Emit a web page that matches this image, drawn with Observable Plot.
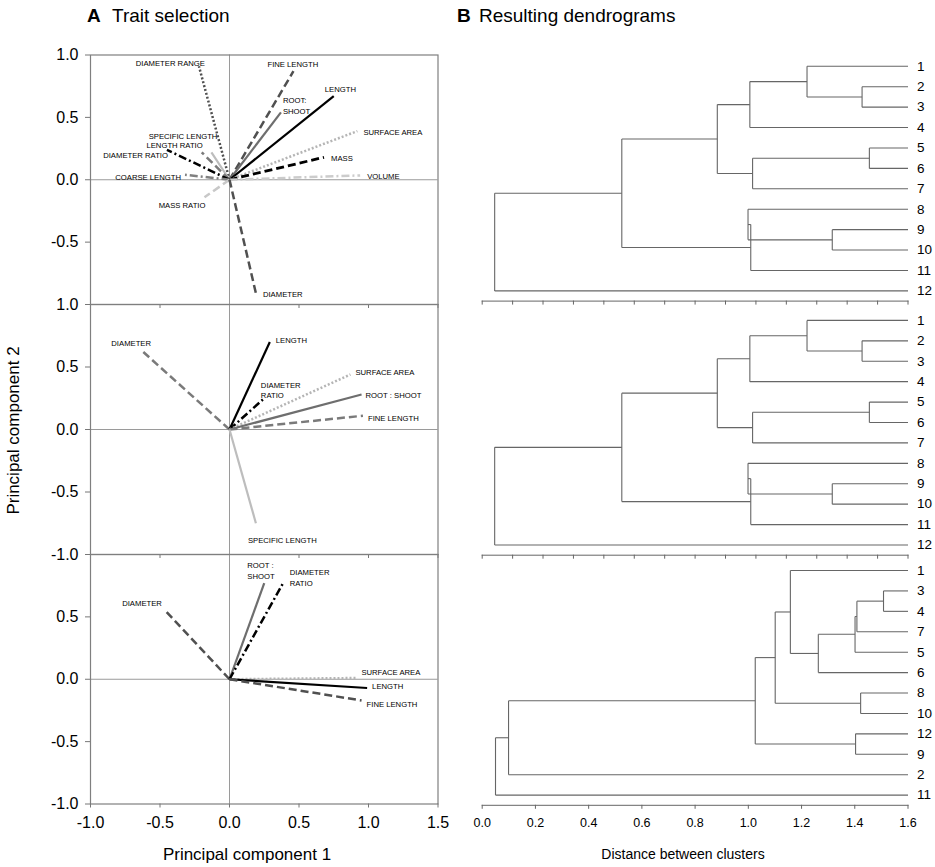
<!DOCTYPE html>
<html>
<head>
<meta charset="utf-8">
<script src="https://cdn.jsdelivr.net/npm/d3@7"></script>
<script src="https://cdn.jsdelivr.net/npm/@observablehq/plot@0.6"></script>
<style>
  html, body { margin: 0; padding: 0; background: #fff; }
  #wrap { position: relative; width: 935px; height: 867px; font-family: "Liberation Sans", Arial, sans-serif; color: #000; overflow: hidden; }
  #wrap svg { position: absolute; left: 0; top: 0; }
  .t { position: absolute; white-space: nowrap; line-height: 1; }
</style>
</head>
<body>
<div id="wrap"></div>
<script>
// ================= DATA =================
// Panel A – trait loadings on principal components (top, middle, bottom)
const traitsTop = ["DIAMETER RANGE", "FINE LENGTH", "ROOT:\nSHOOT", "LENGTH", "SURFACE AREA", "MASS", "VOLUME",
                   "SPECIFIC LENGTH", "LENGTH RATIO", "DIAMETER RATIO", "COARSE LENGTH", "MASS RATIO", "DIAMETER"];
const pc1Top = [-0.22, 0.46, 0.37, 0.75, 0.92, 0.68, 0.94, -0.13, -0.20, -0.45, -0.32, -0.18, 0.19];
const pc2Top = [0.91, 0.87, 0.54, 0.67, 0.39, 0.18, 0.035, 0.22, 0.22, 0.24, 0.04, -0.14, -0.91];

const traitsMid = ["DIAMETER", "LENGTH", "DIAMETER\nRATIO", "SURFACE AREA", "ROOT : SHOOT", "FINE LENGTH", "SPECIFIC LENGTH"];
const pc1Mid = [-0.62, 0.29, 0.24, 0.87, 0.95, 0.96, 0.19];
const pc2Mid = [0.62, 0.70, 0.24, 0.44, 0.28, 0.11, -0.75];

const traitsBot = ["DIAMETER", "ROOT :\nSHOOT", "DIAMETER\nRATIO", "SURFACE AREA", "LENGTH", "FINE LENGTH"];
const pc1Bot = [-0.47, 0.25, 0.39, 0.92, 0.99, 0.95];
const pc2Bot = [0.56, 0.77, 0.78, 0.01, -0.07, -0.17];

// Panel B – dendrograms. Leaves in display order; merges: [child a, child b, height],
// ids 0..11 are leaves, each merge k creates cluster id 12+k.
const leavesDendro1 = ["1","2","3","4","5","6","7","8","9","10","11","12"];
const mergesDendro1 = [[1,2,1.249],[0,12,1.068],[13,3,0.880],[4,5,1.273],[15,6,0.889],[14,16,0.773],
                       [8,9,1.151],[7,18,0.874],[19,10,0.883],[17,20,0.459],[21,11,0.041]];
const leafLevel1 = 1.4;

const leavesDendro2 = ["1","2","3","4","5","6","7","8","9","10","11","12"];
const mergesDendro2 = [[1,2,1.249],[0,12,1.068],[13,3,0.880],[4,5,1.273],[15,6,0.889],[14,16,0.773],
                       [8,9,1.151],[7,18,0.874],[19,10,0.883],[17,20,0.459],[21,11,0.041]];
const leafLevel2 = 1.4;

const leavesDendro3 = ["1","3","4","7","5","6","8","10","12","9","2","11"];
const mergesDendro3 = [[1,2,1.508],[12,3,1.408],[13,4,1.401],[14,5,1.263],[0,15,1.158],[6,7,1.422],
                       [16,17,1.101],[8,9,1.403],[18,19,1.026],[20,10,0.099],[21,11,0.050]];
const leafLevel3 = 1.6;

// Tick values
const pcaXTicks = [-1, -0.5, 0, 0.5, 1, 1.5];
const pcaYTicksTop = [-0.5, 0, 0.5, 1];
const pcaYTicksMid = [-1, -0.5, 0, 0.5, 1];
const pcaYTicksBot = [-1, -0.5, 0, 0.5];
const dendroMinorTicks = [0, 0.1, 0.2, 0.3, 0.4, 0.5, 0.6, 0.7, 0.8, 0.9, 1.0, 1.1, 1.2, 1.3, 1.4];
const dendroTicks = [0, 0.2, 0.4, 0.6, 0.8, 1.0, 1.2, 1.4, 1.6];

// ================= STYLES / LAYOUT =================
const W = 935, H = 867;
const FONT = "Liberation Sans, Arial, sans-serif";
const lineStyles = {
  solidBlack:   {stroke: "#000",    strokeWidth: 2.2},
  solidMid:     {stroke: "#6e6e6e", strokeWidth: 2.2},
  solidLight:   {stroke: "#bdbdbd", strokeWidth: 2.2},
  dashBlack:    {stroke: "#000",    strokeWidth: 2.8, strokeDasharray: "8,4"},
  dashDark:     {stroke: "#505050", strokeWidth: 2.5, strokeDasharray: "8,4"},
  dashMid:      {stroke: "#7a7a7a", strokeWidth: 2.5, strokeDasharray: "8,4"},
  dashLight:    {stroke: "#c8c8c8", strokeWidth: 2.5, strokeDasharray: "8,4"},
  dotDark:      {stroke: "#505050", strokeWidth: 2.5, strokeDasharray: "2,2"},
  dotLight:     {stroke: "#b5b5b5", strokeWidth: 2.5, strokeDasharray: "2,2"},
  dashDotBlack: {stroke: "#000",    strokeWidth: 2.5, strokeDasharray: "8,3,2,3"},
  dashDotMid:   {stroke: "#808080", strokeWidth: 2.5, strokeDasharray: "8,3,2,3"},
  dashDotLight: {stroke: "#cccccc", strokeWidth: 2.5, strokeDasharray: "8,3,2,3"}
};
const styleTop = ["dotDark","dashDark","solidMid","solidBlack","dotLight","dashBlack","dashDotLight",
                  "solidLight","dashMid","dashDotBlack","dashDotMid","dashLight","dashDark"];
const styleMid = ["dashMid","solidBlack","dashDotBlack","dotLight","solidMid","dashMid","solidLight"];
const styleBot = ["dashDark","solidMid","dashDotBlack","dotLight","solidBlack","dashDark"];
// label placement relative to vector tip: [textAnchor, dx, dy]
const labelTop = [["end",6,-4],["start",-26,-8],["start",2,-7],["start",-9,-8],["start",6,0],["start",7,0],["start",7,0],
                  ["end",6,-17],["end",1,-8],["end",1,5],["end",-4,2],["end",1,7],["start",7,0]];
const labelMid = [["start",-32,-9],["start",6,-2],["start",-2,-10],["start",5,-3],["start",4,0],["start",5,2],["start",-8,16]];
const labelBot = [["start",-42,-7],["start",-17,-13],["start",6,-5],["start",4,-6],["start",5,-2],["start",5,3]];

const pcaLeft = 90, pcaRight = 437.5;
const denLeft = 481.7, denRight = 907.5;

const fmt1 = d => d.toFixed(1);
const wrap = document.getElementById("wrap");

function mount(el) { wrap.appendChild(el); }

function pcaPanel(traits, pc1, pc2, styleKeys, labels, top, bottom, yTicks, showXLabels) {
  const rows = traits.map((t, i) => ({trait: t, pc1: pc1[i], pc2: pc2[i], origin: 0}));
  const marks = [
    Plot.ruleX([0], {stroke: "#9a9a9a", strokeWidth: 1}),
    Plot.ruleY([0], {stroke: "#9a9a9a", strokeWidth: 1}),
    Plot.frame({stroke: "#7f7f7f", strokeWidth: 1.2}),
    Plot.axisY(yTicks, {tickFormat: fmt1, tickSize: 5, tickPadding: 7, fontSize: 16, stroke: "#777", label: null}),
    Plot.axisX(pcaXTicks, {tickFormat: showXLabels ? fmt1 : () => "", tickSize: 4, tickPadding: 9, fontSize: 16, stroke: "#777", label: null})
  ];
  rows.forEach((r, i) => {
    marks.push(Plot.link([r], {x1: "origin", y1: "origin", x2: "pc1", y2: "pc2", strokeLinecap: "butt", ...lineStyles[styleKeys[i]]}));
  });
  rows.forEach((r, i) => {
    const [anchor, dx, dy] = labels[i];
    marks.push(Plot.text([r], {x: "pc1", y: "pc2", text: "trait", textAnchor: anchor, dx, dy, fontSize: 7.7, lineHeight: 1.38, fill: "#000"}));
  });
  return Plot.plot({
    width: W, height: H,
    marginLeft: pcaLeft, marginRight: W - pcaRight, marginTop: top, marginBottom: H - bottom,
    style: {background: "transparent", fontFamily: FONT, overflow: "visible"},
    x: {domain: [-1, 1.5]}, y: {domain: [-1, 1]},
    marks
  });
}

function dendroPlot(leaves, merges, leafLevel, xMax, ticks, labeled, top, bottom) {
  const nodes = leaves.map((name, i) => ({pos: i, h: leafLevel}));
  const segs = [];
  for (const [a, b, h] of merges) {
    const A = nodes[a], B = nodes[b];
    segs.push({x1: h, y1: A.pos, x2: h, y2: B.pos});
    segs.push({x1: A.h, y1: A.pos, x2: h, y2: A.pos});
    segs.push({x1: B.h, y1: B.pos, x2: h, y2: B.pos});
    nodes.push({pos: (A.pos + B.pos) / 2, h});
  }
  const leafRows = leaves.map((name, i) => ({name, pos: i, h: leafLevel}));
  return Plot.plot({
    width: W, height: H,
    marginLeft: denLeft, marginRight: W - denRight, marginTop: top, marginBottom: H - bottom,
    style: {background: "transparent", fontFamily: FONT, overflow: "visible"},
    x: {domain: [0, xMax]},
    y: {domain: [-0.5, leaves.length - 0.5], reverse: true, axis: null},
    marks: [
      Plot.link(segs, {x1: "x1", y1: "y1", x2: "x2", y2: "y2", stroke: "#666", strokeWidth: 1.1}),
      Plot.text(leafRows, {x: "h", y: "pos", text: "name", textAnchor: "start", dx: 9, fontSize: 13.5, fill: "#000"}),
      Plot.frame({anchor: "bottom", stroke: "#666"}),
      Plot.axisX(ticks, {tickFormat: labeled ? fmt1 : () => "", tickSize: 4, tickPadding: 9, fontSize: 12.5, stroke: "#666", label: null})
    ]
  });
}

mount(pcaPanel(traitsTop, pc1Top, pc2Top, styleTop, labelTop, 54.5, 304, pcaYTicksTop, false));
mount(pcaPanel(traitsMid, pc1Mid, pc2Mid, styleMid, labelMid, 304, 554, pcaYTicksMid, false));
mount(pcaPanel(traitsBot, pc1Bot, pc2Bot, styleBot, labelBot, 554, 803.5, pcaYTicksBot, true));

mount(dendroPlot(leavesDendro1, mergesDendro1, leafLevel1, 1.4, dendroMinorTicks, false, 55.6, 300.6));
mount(dendroPlot(leavesDendro2, mergesDendro2, leafLevel2, 1.4, dendroMinorTicks, false, 309.7, 554.7));
mount(dendroPlot(leavesDendro3, mergesDendro3, leafLevel3, 1.6, dendroTicks, true, 559.8, 804.8));

// ================= TEXT (titles, axis titles) =================
function addText(txt, css) {
  const d = document.createElement("div");
  d.className = "t";
  d.textContent = txt;
  Object.assign(d.style, css);
  wrap.appendChild(d);
}
addText("A", {left: "87px", top: "5.7px", fontSize: "19px", fontWeight: "bold"});
addText("Trait selection", {left: "112px", top: "5.7px", fontSize: "19px"});
addText("B", {left: "457px", top: "5.7px", fontSize: "19px", fontWeight: "bold"});
addText("Resulting dendrograms", {left: "479px", top: "5.7px", fontSize: "19px"});
addText("Principal component 2", {left: "-137px", top: "421.5px", width: "300px", textAlign: "center", fontSize: "17px", transform: "rotate(-90deg)", transformOrigin: "50% 50%"});
addText("Principal component 1", {left: "97px", top: "846px", width: "300px", textAlign: "center", fontSize: "17px"});
addText("Distance between clusters", {left: "533px", top: "846.5px", width: "300px", textAlign: "center", fontSize: "14px"});
</script>
</body>
</html>
